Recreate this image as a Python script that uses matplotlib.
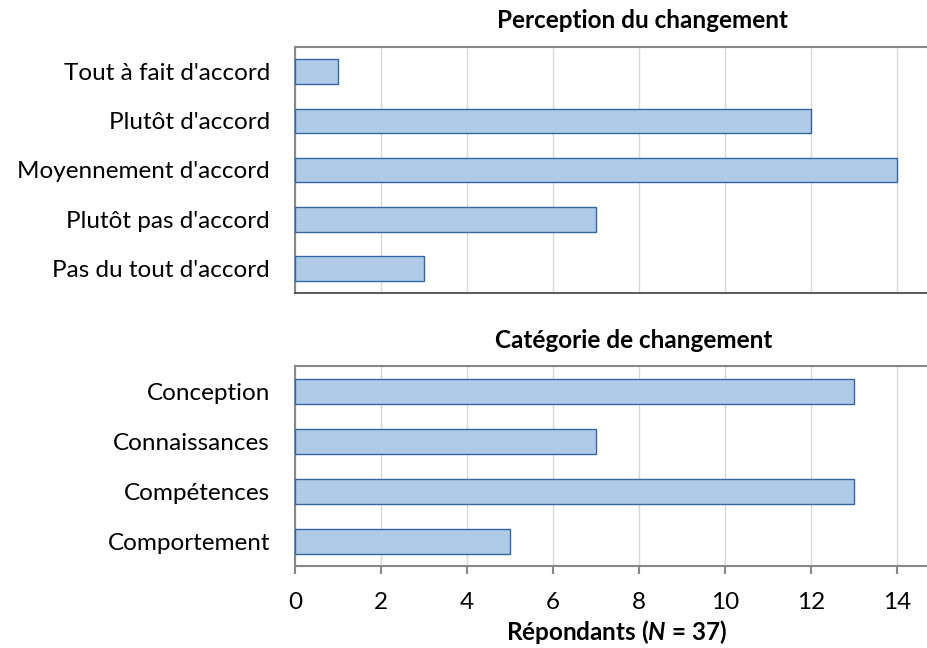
import matplotlib
matplotlib.use("Agg")
import matplotlib.pyplot as plt

plt.rcParams['font.family'] = ['Lato', 'DejaVu Sans']
plt.rcParams['mathtext.fontset'] = 'custom'
plt.rcParams['mathtext.it'] = 'Lato:italic:bold'
plt.rcParams['mathtext.rm'] = 'Lato:bold'

perception_labels = ["Tout à fait d'accord", "Plutôt d'accord", "Moyennement d'accord",
                     "Plutôt pas d'accord", "Pas du tout d'accord"]
perception_values = [1, 12, 14, 7, 3]

categorie_labels = ["Conception", "Connaissances", "Compétences", "Comportement"]
categorie_values = [13, 7, 13, 5]

x_ticks = [0, 2, 4, 6, 8, 10, 12, 14]

title_top = "Perception du changement"
title_bottom = "Catégorie de changement"
xlabel = "Répondants ($\\mathit{N}$ = 37)"

W, H = 928, 648
fig = plt.figure(figsize=(W / 100, H / 100), dpi=100)

fs = 17.5
fill = '#AFCBE7'
edge = '#3468A4'
grid_c = '#D9D9D9'
spine_c = '#888888'
xmax = (928 - 295) / 43.0

def make_ax(top_px, bot_px):
    return fig.add_axes([295 / W, 1 - bot_px / H, (928 - 295) / W, (bot_px - top_px) / H])

ax1 = make_ax(47, 293)
ax2 = make_ax(366, 566)

for ax, labels, vals in [(ax1, perception_labels, perception_values),
                         (ax2, categorie_labels, categorie_values)]:
    n = len(labels)
    ypos = list(range(n))
    ax.barh(ypos, vals, height=0.5, color=fill, edgecolor=edge, linewidth=1.0, zorder=3)
    ax.set_ylim(n - 0.5, -0.5)
    ax.set_yticks(ypos)
    ax.set_yticklabels(labels, fontsize=fs)
    ax.tick_params(axis='y', length=0, pad=18)
    ax.set_xlim(0, xmax)
    ax.set_xticks(x_ticks)
    ax.grid(axis='x', color=grid_c, linewidth=1.0, zorder=0)
    ax.set_axisbelow(True)
    ax.spines['right'].set_visible(False)
    for s in ['top', 'left', 'bottom']:
        ax.spines[s].set_color(spine_c)
        ax.spines[s].set_linewidth(1.5)

ax1.spines['bottom'].set_color('#404040')
ax1.spines['bottom'].set_linewidth(1.2)
ax1.tick_params(axis='x', length=0, labelbottom=False)

ax2.tick_params(axis='x', length=6, width=1.5, color=spine_c, labelsize=fs, pad=13)
ax2.set_xlabel(xlabel, fontsize=fs, fontweight='bold')
ax2.xaxis.set_label_coords(617 / W, 1 - 632 / H, transform=fig.transFigure)
ax2.xaxis.label.set_va('center')

fig.text(643 / W, 1 - 20 / H, title_top, ha='center', va='center', fontsize=fs, fontweight='bold')
fig.text(634 / W, 1 - 340 / H, title_bottom, ha='center', va='center', fontsize=fs, fontweight='bold')

fig.savefig('out.png', dpi=100)
